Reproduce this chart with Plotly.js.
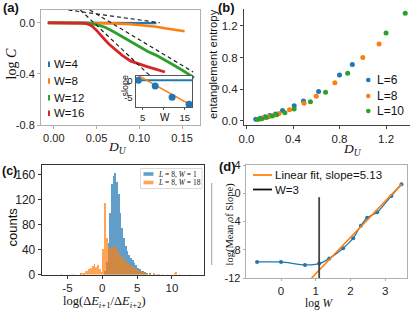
<!DOCTYPE html>
<html><head><meta charset="utf-8">
<script src="https://cdn.plot.ly/plotly-3.0.1.min.js"></script>
<style>html,body{margin:0;padding:0;background:#fff;overflow:hidden}#chart{width:415px;height:310px}</style>
</head><body><div id="chart"></div>
<script>
// ---------- Panel (a): log C vs D_U ----------
const dU4 = [-0.007, 0.02, 0.05, 0.08, 0.10, 0.12];
const logC4 = [0, 0, 0, -0.001, -0.002, -0.003];
const dU8 = [-0.007, 0.03, 0.05, 0.07, 0.09, 0.10, 0.11, 0.12, 0.13, 0.14, 0.15, 0.153];
const logC8 = [0, 0, -0.001, -0.005, -0.012, -0.017, -0.023, -0.031, -0.043, -0.053, -0.063, -0.066];
const dU12 = [-0.007, 0.03, 0.04, 0.05, 0.06, 0.07, 0.08, 0.09, 0.10, 0.11, 0.12, 0.13, 0.14, 0.15, 0.16, 0.164];
const logC12 = [0, 0, -0.003, -0.015, -0.035, -0.07, -0.11, -0.15, -0.19, -0.225, -0.255, -0.29, -0.33, -0.37, -0.41, -0.43];
const dU16 = [-0.007, 0.03, 0.035, 0.04, 0.045, 0.05, 0.055, 0.06, 0.065, 0.07, 0.075, 0.08, 0.09, 0.10, 0.11, 0.12, 0.13];
const logC16 = [0, 0, -0.002, -0.01, -0.028, -0.06, -0.1, -0.135, -0.17, -0.2, -0.23, -0.255, -0.3, -0.325, -0.345, -0.365, -0.385];
const fitAx1 = [0.017, 0.124], fitAy1 = [0.1, 0.0];
const fitAx2 = [0.042, 0.163], fitAy2 = [0.1, -0.385];
const fitAx3 = [0.031, 0.115], fitAy3 = [0.1, -0.43];
const aLegend = ['W=4', 'W=8', 'W=12', 'W=16'];
const aTickX = [0, 0.05, 0.10, 0.15], aTickXText = ['0.00', '0.05', '0.10', '0.15'];
const aTickY = [-0.8, -0.4, 0.0], aTickYText = ['-0.8', '-0.4', '0.0'];
// inset
const insetW = [4, 8, 12, 16];
const insetSlope = [0, -1.66, -4.94, -6.95];
const insetZeroX = [3.34, 16.7], insetZeroY = [0, 0];
const insetFitX = [3.34, 16.7], insetFitY = [1.81, -7.34];
const insetTickX = [5, 10, 15], insetTickXText = ['5', '', '15'];
const insetTickY = [-5, 0], insetTickYText = ['-5', '0'];

// ---------- Panel (b): entanglement entropy ----------
const dL6 = [0.08, 0.12, 0.16, 0.2, 0.25, 0.31, 0.41, 0.49, 0.62, 0.80, 0.91];
const sL6 = [0.02, 0.03, 0.05, 0.065, 0.085, 0.13, 0.19, 0.25, 0.37, 0.58, 0.71];
const dL8 = [0.1, 0.14, 0.19, 0.23, 0.28, 0.37, 0.495, 0.6, 0.76, 1.0, 1.14];
const sL8 = [0.02, 0.035, 0.05, 0.065, 0.09, 0.14, 0.22, 0.31, 0.48, 0.80, 0.97];
const dL10 = [0.1, 0.13, 0.17, 0.22, 0.26, 0.33, 0.41, 0.55, 0.68, 0.87, 1.2, 1.365];
const sL10 = [0.02, 0.025, 0.04, 0.06, 0.075, 0.1, 0.15, 0.24, 0.36, 0.6, 1.11, 1.36];
const bLegend = ['L=6', 'L=8', 'L=10'];
const bTickX = [0, 0.4, 0.8, 1.2], bTickXText = ['0.0', '0.4', '0.8', '1.2'];
const bTickY = [0, 0.4, 0.8, 1.2], bTickYText = ['0.0', '0.4', '0.8', '1.2'];

// ---------- Panel (c): histogram ----------
const blueX = [-5.875, -4.125, -3.125, -2.625, 0.375, 0.625, 0.875, 1.125, 1.375, 1.625, 1.875, 2.125, 2.375, 2.625, 2.875, 3.125, 3.375, 3.625, 3.875, 4.125, 4.375, 4.625, 4.875, 5.125, 5.375, 5.625, 5.875, 6.125, 6.375, 6.875, 7.375, 8.125];
const blueY = [1, 1, 2, 1, 5, 20, 50, 98, 145, 157, 163, 148, 128, 98, 75, 58, 46, 37, 31, 27, 23, 19, 15, 11, 8, 6, 5, 4, 3, 2, 1, 1];
const orangeX = [-3.125, -2.875, -2.625, -2.375, -2.125, -1.875, -1.625, -1.375, -1.125, -0.875, -0.625, -0.375, -0.125, 0.125, 0.375, 0.625, 0.875, 1.125, 1.375, 1.625, 1.875, 2.125, 2.375, 2.625, 2.875, 3.125, 3.375, 3.625, 3.875, 4.125, 4.375, 4.625, 4.875, 5.125, 5.375, 5.625, 5.875, 6.125, 6.375, 6.875, 7.375, 7.875, 8.625, 9.375, 10.375, 10.625, 11.125, 12.5];
const orangeY = [2, 3, 3, 5, 6, 8, 10, 13, 17, 12, 15, 9, 4, 40, 115, 58, 45, 40, 42, 44, 45, 40, 35, 30, 28, 25, 22, 19, 16, 14, 12, 10, 9, 7, 6, 5, 4, 3, 3, 2, 2, 1, 1, 1, 2, 4, 1, 1];
const cLegend = ['<i>L</i> = 8, <i>W</i> = 1', '<i>L</i> = 8, <i>W</i> = 18'];
const cTickX = [-5, 0, 5, 10], cTickXText = ['-5', '0', '5', '10'];
const cTickY = [0, 40, 80, 120, 160], cTickYText = ['0', '40', '80', '120', '160'];

// ---------- Panel (d): log(Mean of Slope) vs log W ----------
const logW = [-0.69, 0, 0.69, 1.10, 1.39, 1.79, 2.08, 2.30, 2.48, 2.77, 3.18, 3.47];
const logMeanSlope = [-9.73, -9.73, -10.15, -9.96, -9.25, -7.8, -6.36, -4.6, -3.47, -2.7, -0.38, 1.28];
const dFitX = [0.88, 3.48], dFitY = [-12.0, 1.33];
const w3X = [1.0986, 1.0986], w3Y = [-12, -0.57];
const dLegend = ['Linear fit, slope=5.13', 'W=3'];
const dTickX = [0, 1, 2, 3], dTickXText = ['0', '1', '2', '3'];
const dTickY = [-12, -8, -4, 0, 4], dTickYText = ['-12', '-8', '-4', '0', '4'];

// ---------- layout helpers ----------
const W = 415, H = 310;
const PX = v => v / W, PY = v => 1 - v / H;
const SANS = 'Liberation Sans, Arial, Helvetica, sans-serif';
const SERIF = 'Liberation Serif, Times New Roman, serif';
const C_BLUE = '#1f77b4', C_ORANGE = '#ff7f0e', C_GREEN = '#2ca02c', C_RED = '#d62728';

function axis(dom, range, tv, tt, o) {
  return Object.assign({
    domain: dom, range: range, tickvals: tv, ticktext: tt,
    showgrid: false, zeroline: false, showline: true, mirror: true,
    linecolor: '#b0b0b0', linewidth: 1, ticks: 'outside', ticklen: 3, tickcolor: '#b0b0b0',
    tickfont: {family: SANS, size: 11, color: '#222'}, fixedrange: true
  }, o || {});
}

const traces = [
  // (a)
  {x: dU4, y: logC4, xaxis: 'x', yaxis: 'y', mode: 'lines', line: {color: C_BLUE, width: 2.4}},
  {x: dU8, y: logC8, xaxis: 'x', yaxis: 'y', mode: 'lines', line: {color: C_ORANGE, width: 2.6}},
  {x: dU12, y: logC12, xaxis: 'x', yaxis: 'y', mode: 'lines', line: {color: C_GREEN, width: 2.8}},
  {x: dU16, y: logC16, xaxis: 'x', yaxis: 'y', mode: 'lines', line: {color: C_RED, width: 2.8}},
  {x: fitAx1, y: fitAy1, xaxis: 'x', yaxis: 'y', mode: 'lines', line: {color: '#222', width: 1.2, dash: '4px,3px'}},
  {x: fitAx2, y: fitAy2, xaxis: 'x', yaxis: 'y', mode: 'lines', line: {color: '#222', width: 1.2, dash: '4px,3px'}},
  {x: fitAx3, y: fitAy3, xaxis: 'x', yaxis: 'y', mode: 'lines', line: {color: '#222', width: 1.2, dash: '4px,3px'}},
  // inset
  {x: insetZeroX, y: insetZeroY, xaxis: 'x2', yaxis: 'y2', mode: 'lines', line: {color: C_BLUE, width: 2}},
  {x: insetFitX, y: insetFitY, xaxis: 'x2', yaxis: 'y2', mode: 'lines', line: {color: C_ORANGE, width: 1.5}},
  {x: insetW, y: insetSlope, xaxis: 'x2', yaxis: 'y2', mode: 'markers', marker: {color: C_BLUE, size: 7}},
  // (b)
  {x: dL6, y: sL6, xaxis: 'x3', yaxis: 'y3', mode: 'markers', marker: {color: C_BLUE, size: 5}},
  {x: dL8, y: sL8, xaxis: 'x3', yaxis: 'y3', mode: 'markers', marker: {color: C_ORANGE, size: 5}},
  {x: dL10, y: sL10, xaxis: 'x3', yaxis: 'y3', mode: 'markers', marker: {color: C_GREEN, size: 5}},
  // (c)
  {type: 'bar', x: blueX, y: blueY, width: 0.25, xaxis: 'x4', yaxis: 'y4', marker: {color: C_BLUE, line: {width: 0}}, opacity: 0.7},
  {type: 'bar', x: orangeX, y: orangeY, width: 0.25, xaxis: 'x4', yaxis: 'y4', marker: {color: C_ORANGE, line: {width: 0}}, opacity: 0.7},
  // (d)
  {x: logW, y: logMeanSlope, xaxis: 'x5', yaxis: 'y5', mode: 'lines+markers', line: {color: C_BLUE, width: 1.3, shape: 'spline', smoothing: 0.6}, marker: {color: C_BLUE, size: 4}},
  {x: dFitX, y: dFitY, xaxis: 'x5', yaxis: 'y5', mode: 'lines', line: {color: C_ORANGE, width: 1.6}},
  {x: w3X, y: w3Y, xaxis: 'x5', yaxis: 'y5', mode: 'lines', line: {color: '#444', width: 1.8}}
];
traces.forEach(t => { t.showlegend = false; t.hoverinfo = 'skip'; });

const ann = [];
function txt(text, x, y, size, fam, o) {
  ann.push(Object.assign({text: text, x: PX(x), y: PY(y), xref: 'paper', yref: 'paper', showarrow: false,
    font: {family: fam, size: size, color: '#111'}, xanchor: 'center', yanchor: 'middle', borderpad: 0}, o || {}));
}
const shapes = [];
// panel labels
txt('<b>(a)</b>', 11, 8, 13, SANS);
txt('<b>(b)</b>', 226, 8, 13, SANS);
txt('<b>(c)</b>', 9.5, 170.5, 12.5, SANS);
txt('<b>(d)</b>', 227, 166, 13, SANS);
// (a) titles
txt('log <i>C</i>', 11.5, 64, 14, SERIF, {textangle: -90});
txt('<i>D</i><sub><i>U</i></sub>', 117, 147.5, 13.5, SERIF);
// (a) legend
const aColors = [C_BLUE, C_ORANGE, C_GREEN, C_RED];
const aRows = [64.3, 81, 97.7, 113.3];
aLegend.forEach((s, i) => {
  txt(s, 53, aRows[i], 11.5, SANS, {xanchor: 'left'});
  shapes.push({type: 'line', xref: 'paper', yref: 'paper', x0: PX(49), x1: PX(49), y0: PY(aRows[i] - 2.8), y1: PY(aRows[i] + 2.8), line: {color: aColors[i], width: 2}});
});
// inset labels
txt('slope', 124.5, 86, 9, SANS, {textangle: -90});
txt('W', 165, 118, 10, SANS);
// (b) titles + legend
txt('entanglement entropy', 213.5, 64.5, 11.3, SANS, {textangle: -90});
txt('<i>D</i><sub><i>U</i></sub>', 352, 149.5, 13.5, SERIF);
const bColors = [C_BLUE, C_ORANGE, C_GREEN];
const bRows = [80, 96, 111];
bLegend.forEach((s, i) => {
  txt(s, 376, bRows[i], 12, SANS, {xanchor: 'left'});
  shapes.push({type: 'circle', xref: 'paper', yref: 'paper', x0: PX(366), x1: PX(370.6), y0: PY(bRows[i] - 2.3), y1: PY(bRows[i] + 2.3), fillcolor: bColors[i], line: {width: 0}});
});
// (c) titles + legend
txt('counts', 11.5, 227, 13, SANS, {textangle: -90});
txt('log(Δ<i>E</i><sub><i>i</i>+1</sub>/Δ<i>E</i><sub><i>i</i>+2</sub>)', 105, 301.5, 12.5, SERIF);
shapes.push({type: 'rect', xref: 'paper', yref: 'paper', x0: PX(140.5), x1: PX(202), y0: PY(168.5), y1: PY(188.5), fillcolor: 'rgba(255,255,255,0.85)', line: {color: '#d0d0d0', width: 0.8}});
shapes.push({type: 'rect', xref: 'paper', yref: 'paper', x0: PX(143.5), x1: PX(153.5), y0: PY(172.2), y1: PY(175.8), fillcolor: 'rgba(31,119,180,0.7)', line: {width: 0}});
shapes.push({type: 'rect', xref: 'paper', yref: 'paper', x0: PX(143.5), x1: PX(153.5), y0: PY(180.7), y1: PY(184.3), fillcolor: 'rgba(255,127,14,0.7)', line: {width: 0}});
txt(cLegend[0], 156.5, 174, 7.5, SERIF, {xanchor: 'left'});
txt(cLegend[1], 156.5, 182.5, 7.5, SERIF, {xanchor: 'left'});
// (d) titles + legend
txt('log(Mean of Slope)', 229.5, 224, 10.5, SERIF, {textangle: -90});
txt('log <i>W</i>', 319, 303, 11.5, SERIF);
shapes.push({type: 'line', xref: 'paper', yref: 'paper', x0: PX(253), x1: PX(272), y0: PY(175), y1: PY(175), line: {color: C_ORANGE, width: 1.8}});
shapes.push({type: 'line', xref: 'paper', yref: 'paper', x0: PX(253), x1: PX(272), y0: PY(189.5), y1: PY(189.5), line: {color: '#111', width: 1.8}});
txt(dLegend[0], 273.5, 175, 11.5, SANS, {xanchor: 'left'});
txt(dLegend[1], 273.5, 189.5, 11.5, SANS, {xanchor: 'left'});
// thin vertical artifact line at left of panel (d)
shapes.push({type: 'line', xref: 'paper', yref: 'paper', x0: PX(211.7), x1: PX(211.7), y0: PY(183), y1: PY(265), line: {color: '#a0a0a0', width: 1}});

const insetFont = {family: SANS, size: 9.5, color: '#222'};
const layout = {
  width: W, height: H, margin: {l: 0, r: 0, t: 0, b: 0},
  paper_bgcolor: '#fff', plot_bgcolor: '#fff', showlegend: false,
  barmode: 'overlay', bargap: 0,
  xaxis: axis([PX(41), PX(200)], [-0.015, 0.171], aTickX, aTickXText, {anchor: 'y'}),
  yaxis: axis([PY(125), PY(10)], [-0.8, 0.1], aTickY, aTickYText, {anchor: 'x'}),
  xaxis2: axis([PX(135.5), PX(192)], [3.34, 16.7], insetTickX, insetTickXText, {anchor: 'y2', linecolor: '#555', tickcolor: '#555', ticklen: 2, tickfont: insetFont}),
  yaxis2: axis([PY(107), PY(76)], [-7.76, 1.25], insetTickY, insetTickYText, {anchor: 'x2', linecolor: '#555', ticks: '', tickfont: insetFont}),
  xaxis3: axis([PX(244), PX(410)], [-0.0215, 1.406], bTickX, bTickXText, {anchor: 'y3', mirror: false, linecolor: '#444', tickcolor: '#444', tickfont: {family: SANS, size: 11.5, color: '#222'}}),
  yaxis3: axis([PY(125), PY(9.3)], [-0.054, 1.41], bTickY, bTickYText, {anchor: 'x3', mirror: false, linecolor: '#444', tickcolor: '#444', tickfont: {family: SANS, size: 11.5, color: '#222'}}),
  xaxis4: axis([PX(41.7), PX(204)], [-8.7, 14.6], cTickX, cTickXText, {anchor: 'y4', linecolor: '#333', tickcolor: '#333', tickfont: {family: SANS, size: 11.5, color: '#222'}}),
  yaxis4: axis([PY(274.5), PY(165)], [0, 175], cTickY, cTickYText, {anchor: 'x4', linecolor: '#333', tickcolor: '#333', tickfont: {family: SANS, size: 12, color: '#222'}}),
  xaxis5: axis([PX(245.7), PX(406.7)], [-1.017, 3.62], dTickX, dTickXText, {anchor: 'y5', ticklen: 2, tickfont: {family: SANS, size: 11.5, color: '#222'}}),
  yaxis5: axis([PY(278), PY(165)], [-12, 4], dTickY, dTickYText, {anchor: 'x5', ticklen: 2, tickfont: {family: SANS, size: 11, color: '#222'}}),
  annotations: ann, shapes: shapes
};
Plotly.newPlot('chart', traces, layout, {staticPlot: true, displayModeBar: false});
</script></body></html>
